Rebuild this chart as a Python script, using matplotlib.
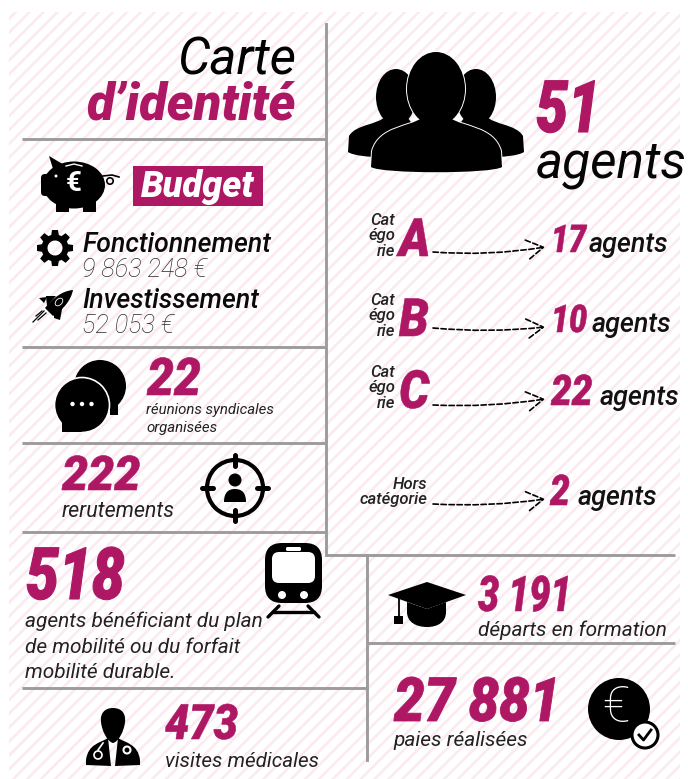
import numpy as np
import matplotlib
matplotlib.use("Agg")
import matplotlib.pyplot as plt
import matplotlib.patheffects as pe
from matplotlib.patches import Circle, Ellipse, Wedge, Rectangle, Polygon, PathPatch, FancyBboxPatch, FancyArrowPatch
from matplotlib.path import Path
from matplotlib.transforms import Affine2D

MAGENTA = "#AE1763"
GREY = "#9C9C9C"
STRIPE = "#FBEBF1"
FONT = "Roboto"

# chart values
category_names = ["A", "B", "C"]
category_counts = ["17", "10", "22"]
other_count = "2"
total_agents = "51"
budget_labels = ["Fonctionnement", "Investissement"]
budget_values = ["9 863 248 €", "52 053 €"]
meetings = "22"
hires = "222"
mobility = "518"
medical_visits = "473"
training_departures = "3 191"
payslips = "27 881"

W, H = 688, 779
fig = plt.figure(figsize=(W / 100, H / 100), dpi=100)
ax = fig.add_axes([0, 0, 1, 1])
ax.set_xlim(0, W)
ax.set_ylim(H, 0)
ax.axis("off")


class Squeeze(pe.AbstractPathEffect):
    """Narrow the text around its left edge, the numbers of the original font are condensed"""

    def __init__(self, x0, sx, stroke):
        super().__init__()
        self.x0, self.sx, self.stroke = x0, sx, stroke

    def draw_path(self, renderer, gc, tpath, affine, rgbFace=None):
        gc0 = renderer.new_gc()
        gc0.copy_properties(gc)
        gc0.set_linewidth(self.stroke)
        gc0.set_foreground(rgbFace)
        squeeze = Affine2D().translate(-self.x0, 0).scale(self.sx, 1).translate(self.x0, 0)
        renderer.draw_path(gc0, tpath, affine + squeeze, rgbFace)
        gc0.restore()


def txt(x, y, s, size, color="black", weight="normal", ha="left", style="italic"):
    return ax.text(x, y, s, fontsize=size, color=color, fontweight=weight, ha=ha, va="baseline",
                   style=style, family=FONT, zorder=5)


def num(x, y, s, size, sx, stroke=0.4):
    t = txt(x, y, s, size, MAGENTA, "black")
    t.set_path_effects([Squeeze(x, sx, stroke)])
    return t


def shape(verts, color="black", z=3, ec="none", lw=0):
    # verts: list of ("M"/"L"/"C"/"Z", points)
    pts, codes = [], []
    for cmd, p in verts:
        if cmd == "M":
            pts.append(p); codes.append(Path.MOVETO)
        elif cmd == "L":
            pts.append(p); codes.append(Path.LINETO)
        elif cmd == "C":
            pts.extend(p); codes.extend([Path.CURVE4] * 3)
        else:
            pts.append((0, 0)); codes.append(Path.CLOSEPOLY)
    ax.add_patch(PathPatch(Path(pts, codes), fc=color, ec=ec, lw=lw, zorder=z))


def round_rect(x0, y0, x1, y1, r, color="black", z=3):
    ax.add_patch(FancyBboxPatch((x0 + r, y0 + r), x1 - x0 - 2 * r, y1 - y0 - 2 * r,
                                boxstyle="round,pad=%f,rounding_size=%f" % (r, r),
                                fc=color, ec="none", zorder=z))


def hline(x0, x1, y):
    ax.plot([x0, x1], [y, y], color=GREY, lw=2.1, solid_capstyle="butt", zorder=2)


def vline(x, y0, y1):
    ax.plot([x, x], [y0, y1], color=GREY, lw=2.1, solid_capstyle="projecting", zorder=2)


# striped background
clip = Rectangle((9, 12), 671, 767, transform=ax.transData)
for c in np.arange(-H, W + H, 13.9):
    ln, = ax.plot([c, c + H], [H, 0], color=STRIPE, lw=1.9, zorder=1)
    ln.set_clip_path(clip)

# rules
vline(326, 24, 555)
hline(326, 675, 555)
vline(367, 555, 760)
hline(22, 326, 139)
hline(22, 326, 347)
hline(22, 326, 443)
hline(22, 326, 532)
hline(22, 367, 688)
hline(367, 675, 643)

# title
txt(296, 74, "Carte", 37, ha="right")
txt(296, 119, "d’identité", 36.5, MAGENTA, "black", ha="right")

# budget
ax.add_patch(Rectangle((133, 166), 130, 40, fc=MAGENTA, ec="none", zorder=3))
txt(198, 197, "Budget", 26, "white", "black", ha="center")
for lab, val, y in zip(budget_labels, budget_values, [252, 308]):
    txt(82, y, lab, 19.2, "#0a0a0a", "medium")
    txt(82, y + 25, val, 18.2, "#2a2a2a", "light")

# piggy bank
ax.add_patch(Ellipse((74, 185), 62, 47, fc="black", zorder=3))
round_rect(41, 174, 55, 196, 4)
ax.add_patch(Polygon([(49, 156), (66, 166), (54, 172)], fc="black", zorder=3))
for x in (56, 83):
    ax.add_patch(Rectangle((x, 200), 13, 12, fc="black", zorder=3))
ax.add_patch(Circle((56, 176), 1.5, fc="white", zorder=4))
ax.plot([66, 74, 82], [166, 164, 166], color="white", lw=1, zorder=4)
txt(74, 191, "€", 20, "white", "bold", ha="center", style="normal")
ax.add_patch(Circle((110, 181), 3.2, fc="none", ec="black", lw=1.2, zorder=3))
ax.plot([103, 112, 119], [176, 175, 177], color="black", lw=1.2, zorder=3)

# gear
ax.add_patch(Wedge((55, 248), 13.5, 0, 360, width=6, fc="black", zorder=3))
for a in np.arange(0, 360, 45):
    ca, sa = np.cos(np.radians(a)), np.sin(np.radians(a))
    ox, oy = -sa, ca
    cx, cy = 55 + 15 * ca, 248 + 15 * sa
    ax.add_patch(Polygon([(cx + 4 * ox - 3.5 * ca, cy + 4 * oy - 3.5 * sa),
                          (cx + 3 * ox + 3 * ca, cy + 3 * oy + 3 * sa),
                          (cx - 3 * ox + 3 * ca, cy - 3 * oy + 3 * sa),
                          (cx - 4 * ox - 3.5 * ca, cy - 4 * oy - 3.5 * sa)], fc="black", zorder=3))

# rocket
shape([("M", (73, 290)), ("C", [(62, 291), (53, 298), (45, 308)]), ("L", (53, 316)),
       ("C", [(64, 309), (71, 300), (73, 290)]), ("Z", None)])
ax.add_patch(Polygon([(46, 296), (56, 296), (47, 306)], fc="black", zorder=3))
ax.add_patch(Polygon([(54, 312), (63, 304), (60, 320), (54, 318)], fc="black", zorder=3))
ax.add_patch(Polygon([(39, 298), (47, 297), (44, 303)], fc="black", zorder=3))
ax.add_patch(Ellipse((59, 302), 9, 6, angle=-45, fc="none", ec="white", lw=0.6, zorder=4))
for a, b, c, d in [(33, 322, 44, 311), (38, 320, 46, 313), (36, 316, 42, 311)]:
    ax.plot([a, c], [b, d], color="black", lw=0.9, zorder=3)

# meetings
ax.add_patch(Circle((100, 386), 26, fc="black", zorder=3))
ax.add_patch(Rectangle((110, 400), 8, 15, fc="black", zorder=3))
ax.add_patch(Circle((82, 405), 27.5, fc="black", ec="white", lw=1.2, zorder=3))
ax.add_patch(Rectangle((62, 415), 20, 16.5, fc="black", zorder=3))
for x in (72.5, 82, 91.5):
    ax.add_patch(Circle((x, 404), 2.2, fc="white", zorder=4))
num(147, 395, meetings, 37.5, 0.92)
txt(146, 414, "réunions syndicales", 10.8, "#222222")
txt(146, 432, "organisées", 10.8, "#222222")

# hires
num(62, 490, hires, 34.5, 0.97)
txt(62, 517, "rerutements", 15.5, "#222222")
ax.add_patch(Circle((235, 488), 28, fc="none", ec="black", lw=3, zorder=3))
for x0, y0, x1, y1 in [(235, 455, 235, 466), (235, 510, 235, 521), (202, 488, 213, 488), (257, 488, 268, 488)]:
    ax.plot([x0, x1], [y0, y1], color="black", lw=3.6, solid_capstyle="round", zorder=3)
ax.add_patch(Circle((235, 480), 6.5, fc="black", zorder=3))
shape([("M", (224, 502)), ("C", [(224, 493), (228, 489), (235, 489)]),
       ("C", [(242, 489), (246, 493), (246, 502)]), ("Z", None)])

# mobility
num(26, 599, mobility, 52, 0.81, 0.8)
for line, y in zip(["agents bénéficiant du plan", "de mobilité ou du forfait", "mobilité durable."], [627, 653, 678]):
    txt(25, y, line, 15, "#222222")
round_rect(265, 543, 322, 603, 17)
round_rect(272, 552, 315, 583, 7, "white", 4)
round_rect(286, 547, 301, 551, 1.5, "white", 4)
for x in (282, 304):
    ax.add_patch(Circle((x, 595), 4, fc="white", zorder=4))
ax.plot([268, 279], [617, 606], color="black", lw=2.4, solid_capstyle="round", zorder=3)
ax.plot([319, 308], [617, 606], color="black", lw=2.4, solid_capstyle="round", zorder=3)
ax.plot([273, 314], [612, 612], color="black", lw=2.4, zorder=3)

# medical
shape([("M", (113, 708)), ("C", [(104, 708), (100, 714), (101, 722)]),
       ("C", [(102, 732), (108, 742), (113, 743)]), ("C", [(118, 742), (124, 732), (125, 722)]),
       ("C", [(126, 714), (122, 708), (113, 708)]), ("Z", None)])
shape([("M", (108, 738)), ("C", [(100, 743), (88, 744), (86, 760)]), ("L", (86, 765)),
       ("L", (111, 766)), ("Z", None)])
shape([("M", (118, 738)), ("C", [(126, 743), (138, 744), (140, 760)]), ("L", (140, 765)),
       ("L", (115, 766)), ("Z", None)])
ax.add_patch(Circle((127, 750), 3.5, fc="black", ec="white", lw=1.5, zorder=4))
ax.add_patch(Circle((98, 755), 4, fc="none", ec="white", lw=1.2, zorder=4))
ax.plot([98, 103], [750, 743], color="white", lw=1.2, zorder=4)
num(165, 739, medical_visits, 35, 0.89)
txt(165, 767, "visites médicales", 14.9, "#222222")


# people
def person(cx, top, rx, ry, bottom, x0, x1, neck, color="black", z=3, ec="none", lw=0):
    ax.add_patch(Ellipse((cx, top + ry), 2 * rx, 2 * ry, fc=color, ec=ec, lw=lw, zorder=z))
    shape([("M", (cx, neck - 28)), ("L", (cx - rx * 0.5, neck)),
           ("C", [(cx - rx * 0.9, neck + 9), (x0 + 8, neck + 8), (x0 + 1, bottom - 22)]), ("L", (x0, bottom - 6)),
           ("C", [(x0 + 10, bottom + 1), (x1 - 10, bottom + 1), (x1, bottom - 6)]), ("L", (x1 - 1, bottom - 22)),
           ("C", [(x1 - 8, neck + 8), (cx + rx * 0.9, neck + 9), (cx + rx * 0.5, neck)]), ("Z", None)],
          color, z, ec, lw)


person(396, 69, 20, 28, 158, 348, 420, 116)
person(476, 69, 20, 28, 158, 452, 524, 116)
person(436, 52, 29, 37, 173, 371, 502, 118, z=4, ec="white", lw=1.4)
person(436, 52, 29, 37, 173, 371, 502, 118, z=4)
num(536, 132, total_agents, 52, 0.79, 0.8)
txt(536, 177, "agents", 37, "#050505")

# categories
cat_rows = [256, 336, 408]
count_base = [252, 332, 405]
count_size = [27.5, 27.5, 30.5]
count_sx = [0.82, 0.84, 0.87]
agents_x = [589, 592, 600]
for name, n, y, yc, cs, sx, ax_ in zip(category_names, category_counts, cat_rows, count_base, count_size, count_sx, agents_x):
    for part, dy in zip(["Cat", "égo", "rie"], [-31, -16, 0]):
        txt(395, y + dy, part, 12, "#222222", ha="right", weight="medium")
    num(399, y, name, 38, 0.9)
    num(551, yc, n, cs, sx)
    txt(ax_, yc, "agents", 19.4, "#111111", "medium")
txt(427, 489, "Hors", 12, "#222222", ha="right", weight="medium")
txt(427, 504, "catégorie", 12, "#222222", ha="right", weight="medium")
num(550, 505, other_count, 30.5, 0.83)
txt(578, 505, "agents", 19.4, "#111111", "medium")

arrows = [((433, 252), (545, 247), 0.06), ((433, 328), (545, 327), 0.05),
          ((433, 405), (545, 399), 0.05), ((433, 504), (545, 499), 0.05)]
for a, b, rad in arrows:
    ax.add_patch(FancyArrowPatch(a, b, connectionstyle="arc3,rad=%f" % rad,
                                 arrowstyle="->,head_length=1.0,head_width=0.6", mutation_scale=12,
                                 linestyle=(0, (3.2, 1.6)), lw=1.2, color="black", zorder=3,
                                 shrinkA=0, shrinkB=0))

# training
ax.add_patch(Polygon([(388, 595), (427, 582), (466, 595), (427, 609)], fc="black", zorder=4))
shape([("M", (407, 602)), ("L", (427, 609)), ("L", (446, 602)), ("L", (446, 612)),
       ("C", [(446, 622), (438, 627), (427, 627)]), ("C", [(416, 627), (407, 622), (407, 612)]), ("Z", None)])
ax.plot([398.5, 398.5], [597, 618], color="black", lw=1.3, zorder=3)
ax.add_patch(Rectangle((394, 616), 8.5, 8, fc="black", zorder=3))
num(478, 611, training_departures, 35.5, 0.76)
txt(478, 636, "départs en formation", 15, "#222222")

# pay
num(394, 721, payslips, 44, 0.89, 0.6)
txt(393, 746, "paies réalisées", 15, "#222222")
ax.add_patch(Circle((619, 709), 31, fc="black", zorder=3))
txt(616, 722, "€", 36, "white", "light", ha="center", style="normal")
ax.add_patch(Circle((645, 735), 13, fc="white", ec="black", lw=2.2, zorder=4))
ax.plot([639, 643.5, 651], [735, 740, 730], color="black", lw=2, zorder=5)

fig.savefig("out.png", dpi=100)
